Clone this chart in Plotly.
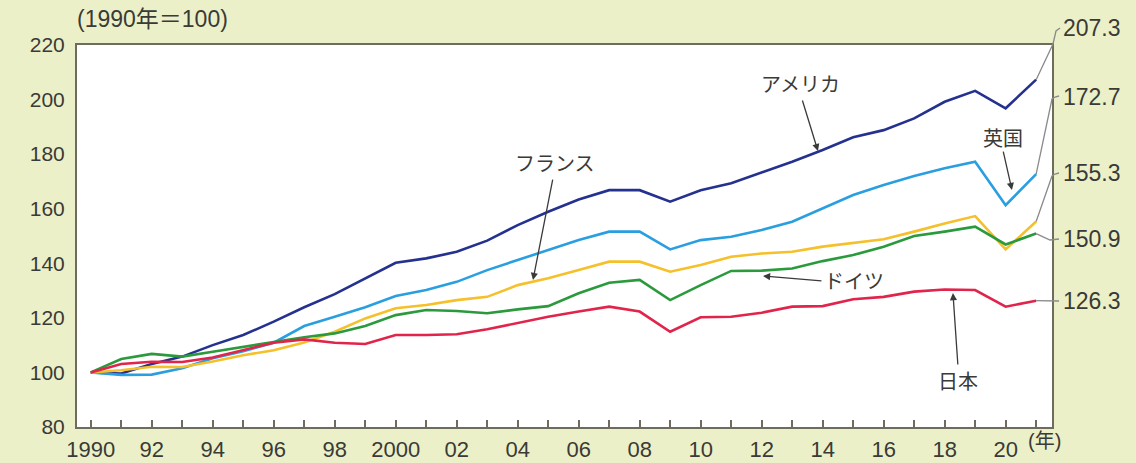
import plotly.graph_objects as go

years = list(range(1990, 2022))
usa = [100, 99.6, 103.1, 105.8, 110.0, 113.7, 118.6, 123.9, 128.7, 134.5, 140.2,
       141.8, 144.2, 148.3, 154.0, 158.9, 163.4, 166.8, 166.8, 162.6, 166.8,
       169.3, 173.2, 177.2, 181.5, 186.2, 188.8, 193.1, 199.2, 203.2, 196.8, 207.3]
uk = [100, 99.1, 99.2, 101.5, 105.2, 107.8, 110.9, 117.0, 120.4, 123.9, 128.0,
      130.2, 133.2, 137.5, 141.2, 144.9, 148.5, 151.6, 151.6, 145.1, 148.5,
      149.7, 152.2, 155.2, 160.1, 165.0, 168.7, 172.0, 174.8, 177.2, 161.3, 172.7]
france = [100, 100.8, 102.1, 102.0, 104.0, 106.3, 108.1, 111.0, 114.9, 119.8, 123.5,
          124.7, 126.5, 127.7, 132.0, 134.5, 137.5, 140.6, 140.6, 136.9, 139.4,
          142.4, 143.6, 144.2, 146.1, 147.5, 148.8, 151.6, 154.6, 157.3, 145.1, 155.3]
germany = [100, 104.9, 106.8, 105.8, 107.6, 109.4, 111.1, 112.9, 114.3, 117.0, 121.0,
           122.9, 122.5, 121.7, 123.1, 124.3, 129.0, 132.9, 133.9, 126.5, 132.0,
           137.2, 137.3, 138.1, 140.8, 143.0, 146.1, 150.0, 151.6, 153.4, 146.9, 150.9]
japan = [100, 103.1, 103.9, 103.8, 105.5, 108.2, 110.9, 112.1, 110.9, 110.4, 113.7,
         113.7, 114.0, 115.8, 118.2, 120.4, 122.3, 124.1, 122.3, 114.9, 120.2,
         120.4, 121.9, 124.1, 124.3, 126.8, 127.7, 129.6, 130.4, 130.2, 124.1, 126.3]

series_names = ["アメリカ", "英国", "フランス", "ドイツ", "日本"]
series_values = [usa, uk, france, germany, japan]
series_colors = ["#24318f", "#2a9fe0", "#f5c02a", "#2b9a3c", "#e1244b"]
end_labels = ["207.3", "172.7", "155.3", "150.9", "126.3"]

tick_years = list(range(1990, 2021, 2))
tick_text = ["1990" if y == 1990 else ("2000" if y == 2000 else f"{y % 100:02d}") for y in tick_years]

FONT = "Liberation Sans, Noto Sans CJK JP, sans-serif"
JFONT = "Noto Sans CJK JP, Liberation Sans, sans-serif"
TXT = "#3a3a36"
AX = "#6f6b5f"
BG = "#ecf0c9"

fig = go.Figure()
for name, vals, col in zip(series_names, series_values, series_colors):
    fig.add_trace(go.Scatter(x=years, y=vals, mode="lines", name=name,
                             line=dict(color=col, width=2.6), showlegend=False))

# plot box in pixels (for placing annotations outside the plot)
L, R, T, B = 77, 1052, 45, 427
def PX(px):
    return (px - L) / (R - L)
def PY(py):
    return (B - py) / (B - T)

X0, X1 = 1989.55, 2021.52
Y0, Y1 = 80, 220
def DX(year):
    return (year - X0) / (X1 - X0)
def DY(v):
    return (v - Y0) / (Y1 - Y0)

# leader lines from series end to right-side labels
leaders = [
    ([(1053, 44), (1056, 31), (1060, 28)], 28),
    ([(1052, 99), (1055, 97), (1059, 96)], 97),
    ([(1052, 176), (1055, 174), (1059, 173)], 173),
    ([(1050, 240), (1059, 239)], 239),
    ([(1059, 301)], 301),
]
shapes = []
for vals, (pts, ly), lab in zip(series_values, leaders, end_labels):
    x0, y0 = DX(years[-1]), DY(vals[-1])
    path = f"M {x0} {y0}"
    for (px, py) in pts:
        path += f" L {PX(px)} {PY(py)}"
    shapes.append(dict(type="path", path=path, xref="paper", yref="paper",
                       line=dict(color="#8a8a8a", width=1.3)))

annotations = []
for (pts, ly), lab in zip(leaders, end_labels):
    annotations.append(dict(x=PX(1061), y=PY(ly), xref="paper", yref="paper",
                            text=lab, showarrow=False, xanchor="left", yanchor="middle",
                            font=dict(family=FONT, size=23, color=TXT)))

# series labels with arrows (text position, arrow tail, arrow head) in data coordinates
def pdx(px):
    return 1990 + (px - 90.7) / 30.5
def pdy(py):
    return 80 + (B - py) / 2.729

labels = [
    ("アメリカ", (801, 83), (802, 99), (818, 151)),
    ("フランス", (555, 162), (553, 178), (533, 280)),
    ("英国", (1003, 137), (1003, 150), (1012, 190)),
    ("ドイツ", (854, 280), (823, 281), (763, 276)),
    ("日本", (958, 380), (958, 366), (953, 293)),
]
for text, (tx, ty), (ax_, ay_), (hx, hy) in labels:
    annotations.append(dict(x=pdx(tx), y=pdy(ty), xref="x", yref="y", text=text,
                            showarrow=False, font=dict(family=JFONT, size=20, color=TXT)))
    annotations.append(dict(x=pdx(hx), y=pdy(hy), ax=pdx(ax_), ay=pdy(ay_),
                            xref="x", yref="y", axref="x", ayref="y", text="",
                            showarrow=True, arrowhead=2, arrowsize=1.1, arrowwidth=1.3,
                            arrowcolor="#3a3a3a", standoff=0, startstandoff=0))

annotations.append(dict(x=PX(75), y=PY(19), xref="paper", yref="paper",
                        text="(1990年＝100)", showarrow=False, xanchor="left", yanchor="middle",
                        font=dict(family=FONT, size=23, color=TXT)))
annotations.append(dict(x=PX(1026), y=PY(441), xref="paper", yref="paper",
                        text="(年)", showarrow=False, xanchor="left", yanchor="middle",
                        font=dict(family=FONT, size=20, color=TXT)))

fig.update_layout(
    width=1136, height=463,
    margin=dict(l=L, r=1136 - R, t=T, b=463 - B, autoexpand=False),
    paper_bgcolor=BG, plot_bgcolor="white",
    shapes=shapes, annotations=annotations,
    xaxis=dict(range=[X0, X1], tickvals=tick_years, ticktext=tick_text,
               ticks="inside", ticklen=7, tickwidth=1.5, tickcolor=AX,
               minor=dict(dtick=1, tick0=1990, ticks="inside", ticklen=7, tickcolor=AX, tickwidth=1.5, showgrid=False),
               showline=True, linecolor=AX, linewidth=2, mirror=True,
               showgrid=False, zeroline=False, ticklabelstandoff=2, automargin=False,
               tickfont=dict(family=FONT, size=22, color=TXT)),
    yaxis=dict(range=[Y0, Y1], dtick=20, tick0=80, ticks="",
               showline=True, linecolor=AX, linewidth=2, mirror=True,
               showgrid=False, zeroline=False, ticklabelstandoff=6, automargin=False,
               tickfont=dict(family=FONT, size=21, color=TXT)),
)

fig.write_html("out.html")
